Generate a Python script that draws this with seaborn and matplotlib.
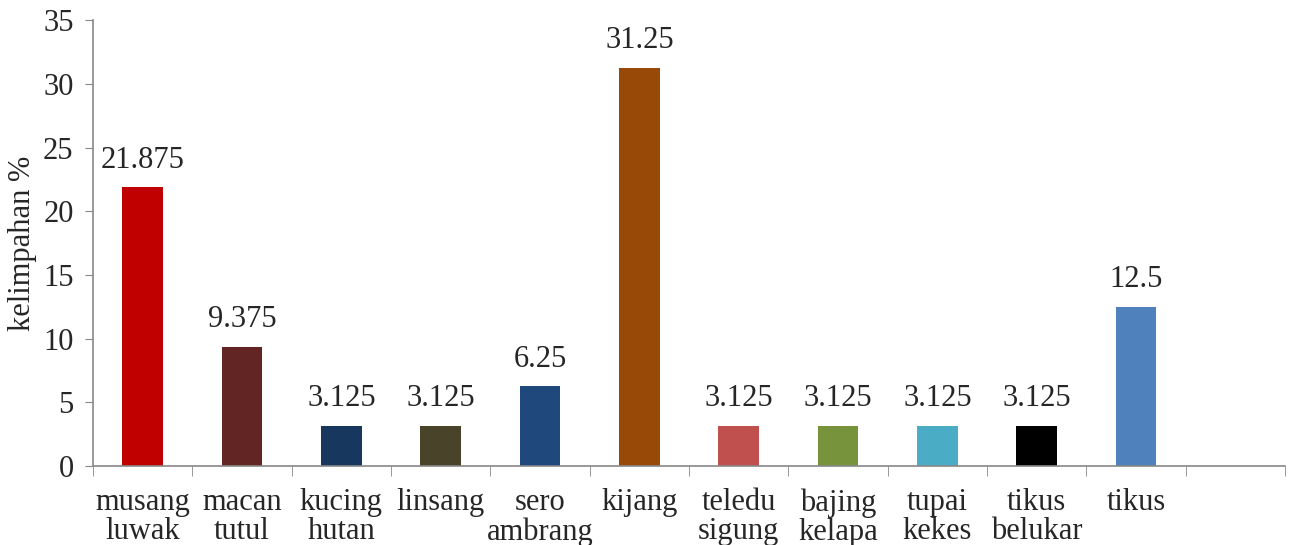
import pandas as pd
import matplotlib.pyplot as plt
import seaborn as sns
import numpy as np

# data
species = [
    "musang\nluwak", "macan\ntutul", "kucing\nhutan", "linsang", "sero\nambrang",
    "kijang", "teledu\nsigung", "bajing\nkelapa", "tupai\nkekes", "tikus\nbelukar", "tikus",
]
abundance = [21.875, 9.375, 3.125, 3.125, 6.25, 31.25, 3.125, 3.125, 3.125, 3.125, 12.5]
value_labels = ["21.875", "9.375", "3.125", "3.125", "6.25", "31.25",
                "3.125", "3.125", "3.125", "3.125", "12.5"]
bar_colors = [
    "#C00000", "#632523", "#17375E", "#494429", "#1F497D", "#984807",
    "#C0504D", "#77933C", "#4BACC6", "#000000", "#4F81BD",
]

sns.set_style("white")
plt.rcParams["font.family"] = ["Liberation Serif", "DejaVu Serif"]
fs = 22

df = pd.DataFrame({"species": species, "abundance": abundance})

fig = plt.figure(figsize=(12.95, 5.45), dpi=100)
ax = fig.add_axes([0.0718, 0.145, 0.9205, 0.818])

sns.barplot(data=df, x="species", y="abundance", hue="species", palette=bar_colors,
            order=species, width=0.41, legend=False, saturation=1, linewidth=0, ax=ax)

for i, (v, lab) in enumerate(zip(abundance, value_labels)):
    ax.text(i, v + 1.0, lab, ha="center", va="bottom", fontsize=fs)

# one extra empty category slot on the right, like the original
n = len(species) + 1
ax.set_xlim(-0.5, n - 0.5)
ax.set_ylim(0, 35)
ax.set_yticks(np.arange(0, 36, 5))
ax.set_xticks(range(len(species)))
ax.set_xticklabels(species, fontsize=fs, linespacing=1.0)
ax.set_xticks(np.arange(-0.5, n, 1), minor=True)
ax.tick_params(axis="x", which="major", length=0, pad=16)
ax.tick_params(axis="x", which="minor", length=7, color="#888888", direction="out", bottom=True)
ax.tick_params(axis="y", length=6, color="#888888", direction="out", left=True, labelsize=fs, pad=8)

ax.set_xlabel("")
ax.set_ylabel("kelimpahan %", fontsize=fs, labelpad=4)

for side in ["top", "right"]:
    ax.spines[side].set_visible(False)
for side in ["left", "bottom"]:
    ax.spines[side].set_color("#888888")
    ax.spines[side].set_linewidth(1.2)

fig.savefig("out.png", dpi=100)
